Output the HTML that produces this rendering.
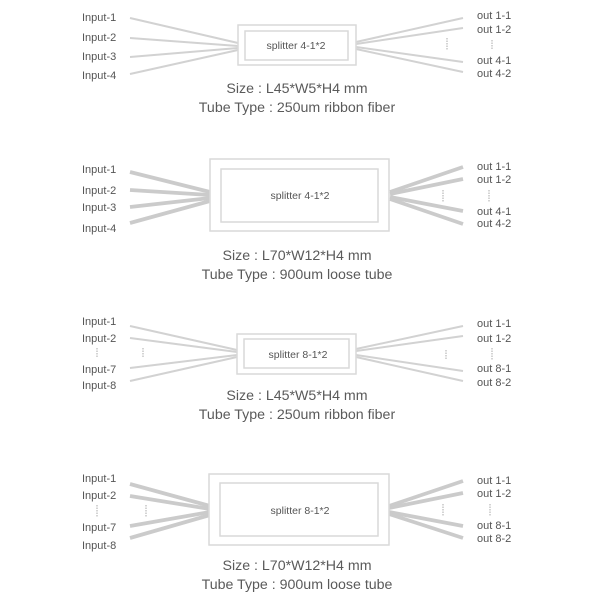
<!DOCTYPE html>
<html>
<head>
<meta charset="utf-8">
<style>
html,body{margin:0;padding:0;background:#fff;}
svg{display:block;}
.lbl{font-family:"Liberation Sans",sans-serif;font-size:11px;fill:#555;}
.sp{font-family:"Liberation Sans",sans-serif;font-size:10.5px;fill:#555;}
.big{font-family:"Liberation Sans",sans-serif;font-size:14.2px;fill:#5a5a5a;}
.thin{stroke:#d2d2d2;stroke-width:2;fill:none;}
.thick{stroke:#cbcbcb;stroke-width:3.8;fill:none;}
.box{stroke:#d9d9d9;stroke-width:1.5;fill:#fff;}
.dot{stroke:#b8b8b8;stroke-width:1.2;stroke-dasharray:1.5,1;fill:none;}
</style>
</head>
<body>
<svg width="600" height="600" viewBox="0 0 600 600" xmlns="http://www.w3.org/2000/svg">
<!-- Section 1 -->
<g>
<line class="thin" x1="130" y1="18" x2="238" y2="43"/>
<line class="thin" x1="130" y1="38" x2="238" y2="46"/>
<line class="thin" x1="130" y1="57" x2="238" y2="48"/>
<line class="thin" x1="130" y1="74" x2="238" y2="50"/>
<line class="thin" x1="356" y1="42" x2="463" y2="18"/>
<line class="thin" x1="356" y1="44" x2="463" y2="28"/>
<line class="thin" x1="356" y1="47" x2="463" y2="62"/>
<line class="thin" x1="356" y1="49" x2="463" y2="72"/>
<rect class="box" x="238" y="25" width="118" height="40"/>
<rect class="box" x="245" y="31" width="103" height="29"/>
<text class="sp" x="296" y="49" text-anchor="middle">splitter 4-1*2</text>
<text class="lbl" x="82" y="21">Input-1</text>
<text class="lbl" x="82" y="41">Input-2</text>
<text class="lbl" x="82" y="60">Input-3</text>
<text class="lbl" x="82" y="79">Input-4</text>
<text class="lbl" x="477" y="19">out 1-1</text>
<text class="lbl" x="477" y="33">out 1-2</text>
<text class="lbl" x="477" y="64">out 4-1</text>
<text class="lbl" x="477" y="77">out 4-2</text>
<line class="dot" x1="447" y1="38" x2="447" y2="50"/>
<line class="dot" x1="492" y1="40" x2="492" y2="50"/>
<text class="big" x="297" y="93" text-anchor="middle">Size : L45*W5*H4 mm</text>
<text class="big" x="297" y="112" text-anchor="middle">Tube Type : 250um ribbon fiber</text>
</g>

<!-- Section 2 -->
<g>
<line class="thick" x1="130" y1="172" x2="210" y2="192"/>
<line class="thick" x1="130" y1="190" x2="210" y2="195"/>
<line class="thick" x1="130" y1="207" x2="210" y2="198"/>
<line class="thick" x1="130" y1="223" x2="210" y2="201"/>
<line class="thick" x1="390" y1="192" x2="463" y2="167"/>
<line class="thick" x1="390" y1="194" x2="463" y2="179"/>
<line class="thick" x1="390" y1="197" x2="463" y2="211"/>
<line class="thick" x1="390" y1="199" x2="463" y2="224"/>
<rect class="box" x="210" y="159" width="179" height="72"/>
<rect class="box" x="221" y="169" width="157" height="53"/>
<text class="sp" x="300" y="199" text-anchor="middle">splitter 4-1*2</text>
<text class="lbl" x="82" y="173">Input-1</text>
<text class="lbl" x="82" y="194">Input-2</text>
<text class="lbl" x="82" y="211">Input-3</text>
<text class="lbl" x="82" y="232">Input-4</text>
<text class="lbl" x="477" y="170">out 1-1</text>
<text class="lbl" x="477" y="183">out 1-2</text>
<text class="lbl" x="477" y="215">out 4-1</text>
<text class="lbl" x="477" y="227">out 4-2</text>
<line class="dot" x1="443" y1="190" x2="443" y2="202"/>
<line class="dot" x1="489" y1="190" x2="489" y2="202"/>
<text class="big" x="297" y="260" text-anchor="middle">Size : L70*W12*H4 mm</text>
<text class="big" x="297" y="279" text-anchor="middle">Tube Type : 900um loose tube</text>
</g>

<!-- Section 3 -->
<g>
<line class="thin" x1="130" y1="326" x2="237" y2="350"/>
<line class="thin" x1="130" y1="338" x2="237" y2="352"/>
<line class="thin" x1="130" y1="368" x2="237" y2="355"/>
<line class="thin" x1="130" y1="381" x2="237" y2="357"/>
<line class="thin" x1="356" y1="349" x2="463" y2="326"/>
<line class="thin" x1="356" y1="351" x2="463" y2="336"/>
<line class="thin" x1="356" y1="355" x2="463" y2="371"/>
<line class="thin" x1="356" y1="357" x2="463" y2="381"/>
<rect class="box" x="237" y="334" width="119" height="40"/>
<rect class="box" x="244" y="339" width="105" height="29"/>
<text class="sp" x="298" y="358" text-anchor="middle">splitter 8-1*2</text>
<text class="lbl" x="82" y="325">Input-1</text>
<text class="lbl" x="82" y="342">Input-2</text>
<line class="dot" x1="97" y1="348" x2="97" y2="358"/>
<line class="dot" x1="143" y1="348" x2="143" y2="358"/>
<text class="lbl" x="82" y="373">Input-7</text>
<text class="lbl" x="82" y="389">Input-8</text>
<text class="lbl" x="477" y="327">out 1-1</text>
<text class="lbl" x="477" y="342">out 1-2</text>
<text class="lbl" x="477" y="372">out 8-1</text>
<text class="lbl" x="477" y="386">out 8-2</text>
<line class="dot" x1="446" y1="350" x2="446" y2="360"/>
<line class="dot" x1="492" y1="348" x2="492" y2="360"/>
<text class="big" x="297" y="400" text-anchor="middle">Size : L45*W5*H4 mm</text>
<text class="big" x="297" y="419" text-anchor="middle">Tube Type : 250um ribbon fiber</text>
</g>

<!-- Section 4 -->
<g>
<line class="thick" x1="130" y1="484" x2="210" y2="506"/>
<line class="thick" x1="130" y1="496" x2="210" y2="509"/>
<line class="thick" x1="130" y1="526" x2="210" y2="512"/>
<line class="thick" x1="130" y1="538" x2="210" y2="515"/>
<line class="thick" x1="389" y1="506" x2="463" y2="481"/>
<line class="thick" x1="389" y1="508" x2="463" y2="493"/>
<line class="thick" x1="389" y1="512" x2="463" y2="526"/>
<line class="thick" x1="389" y1="514" x2="463" y2="538"/>
<rect class="box" x="209" y="474" width="180" height="71"/>
<rect class="box" x="220" y="483" width="158" height="53"/>
<text class="sp" x="300" y="514" text-anchor="middle">splitter 8-1*2</text>
<text class="lbl" x="82" y="482">Input-1</text>
<text class="lbl" x="82" y="499">Input-2</text>
<line class="dot" x1="97" y1="505" x2="97" y2="517"/>
<line class="dot" x1="146" y1="505" x2="146" y2="517"/>
<text class="lbl" x="82" y="531">Input-7</text>
<text class="lbl" x="82" y="549">Input-8</text>
<text class="lbl" x="477" y="484">out 1-1</text>
<text class="lbl" x="477" y="497">out 1-2</text>
<text class="lbl" x="477" y="529">out 8-1</text>
<text class="lbl" x="477" y="542">out 8-2</text>
<line class="dot" x1="443" y1="504" x2="443" y2="516"/>
<line class="dot" x1="490" y1="504" x2="490" y2="516"/>
<text class="big" x="297" y="570" text-anchor="middle">Size : L70*W12*H4 mm</text>
<text class="big" x="297" y="589" text-anchor="middle">Tube Type : 900um loose tube</text>
</g>
</svg>
</body>
</html>
